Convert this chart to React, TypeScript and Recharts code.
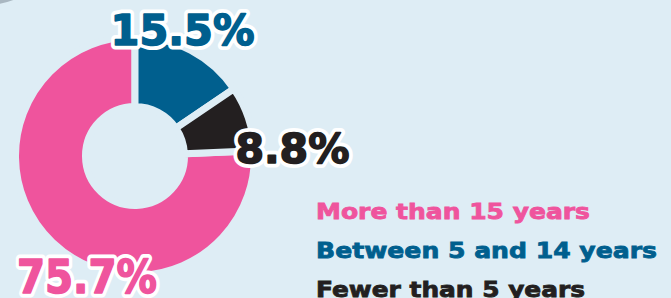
import { PieChart, Pie, Cell, Legend } from 'recharts'

const NAMES = ['More than 15 years', 'Between 5 and 14 years', 'Fewer than 5 years']
const SHARES = [75.7, 15.5, 8.8]

const COLORS: Record<string, string> = {
  'More than 15 years': '#ef549d',
  'Between 5 and 14 years': '#005f8e',
  'Fewer than 5 years': '#231f20',
}

// label placement relative to the slice's outer mid point
const LABEL_STYLE: Record<string, { dx: number; dy: number; len: number; size: number }> = {
  'More than 15 years': { dx: 34.6, dy: 50.7, len: 140, size: 46 },
  'Between 5 and 14 years': { dx: -8.4, dy: -5.4, len: 144, size: 43 },
  'Fewer than 5 years': { dx: 44, dy: 44.6, len: 114, size: 41 },
}

const LEGEND_WIDTHS: Record<string, number> = {
  'More than 15 years': 274,
  'Between 5 and 14 years': 341,
  'Fewer than 5 years': 269,
}

const BG = '#deedf5'
const RAD = Math.PI / 180

const data = NAMES.map((name, i) => ({ name, value: SHARES[i] }))
const total = SHARES.reduce((s, v) => s + v, 0)
// the first slice ends at 12 o'clock going clockwise
const startAngle = 90 - ((total - SHARES[0]) / total) * 360

const renderLabel = (props: any) => {
  const { cx, cy, midAngle, outerRadius, name, value } = props
  const st = LABEL_STYLE[name]
  const x = cx + outerRadius * Math.cos(-midAngle * RAD) + st.dx
  const y = cy + outerRadius * Math.sin(-midAngle * RAD) + st.dy
  const common = {
    x,
    y,
    textAnchor: 'middle' as const,
    fontFamily: 'DejaVu Sans',
    fontWeight: 'bold',
    fontSize: st.size,
    textLength: st.len,
    lengthAdjust: 'spacingAndGlyphs' as const,
    strokeLinejoin: 'round' as const,
  }
  return (
    <g>
      <text {...common} fill="#fff" stroke="#fff" strokeWidth={9}>
        {`${value}%`}
      </text>
      <text {...common} fill={COLORS[name]} stroke={COLORS[name]} strokeWidth={1.6}>
        {`${value}%`}
      </text>
    </g>
  )
}

const renderLegend = () => (
  <svg width={371} height={108}>
    {NAMES.map((name, i) => (
      <text
        key={name}
        x={16}
        y={28.5 + i * 39}
        fill={COLORS[name]}
        stroke={COLORS[name]}
        strokeWidth={0.8}
        fontFamily="DejaVu Sans"
        fontWeight="bold"
        fontSize={21}
        textLength={LEGEND_WIDTHS[name]}
        lengthAdjust="spacingAndGlyphs"
      >
        {name}
      </text>
    ))}
  </svg>
)

export default function App() {
  return (
    <div
      style={{
        position: 'fixed',
        left: 0,
        top: 0,
        width: 671,
        height: 298,
        background: BG,
        overflow: 'hidden',
      }}
    >
      <div
        style={{
          position: 'absolute',
          left: -119,
          top: -191,
          width: 197,
          height: 197,
          borderRadius: '50%',
          background: '#a9b7c1',
        }}
      />
      <PieChart
        width={671}
        height={298}
        margin={{ top: 0, right: 0, bottom: 0, left: 0 }}
        style={{ position: 'absolute', left: 0, top: 0 }}
      >
        <Pie
          data={data}
          dataKey="value"
          nameKey="name"
          cx={135}
          cy={156}
          innerRadius={49.5}
          outerRadius={119.5}
          startAngle={startAngle}
          endAngle={startAngle - 360}
          stroke={BG}
          strokeWidth={7}
          label={renderLabel}
          labelLine={false}
          isAnimationActive={false}
        >
          {data.map(d => (
            <Cell key={d.name} fill={COLORS[d.name]} />
          ))}
        </Pie>
        <Legend
          content={renderLegend}
          wrapperStyle={{ position: 'absolute', left: 300, top: 190, width: 371, height: 108 }}
        />
      </PieChart>
    </div>
  )
}
